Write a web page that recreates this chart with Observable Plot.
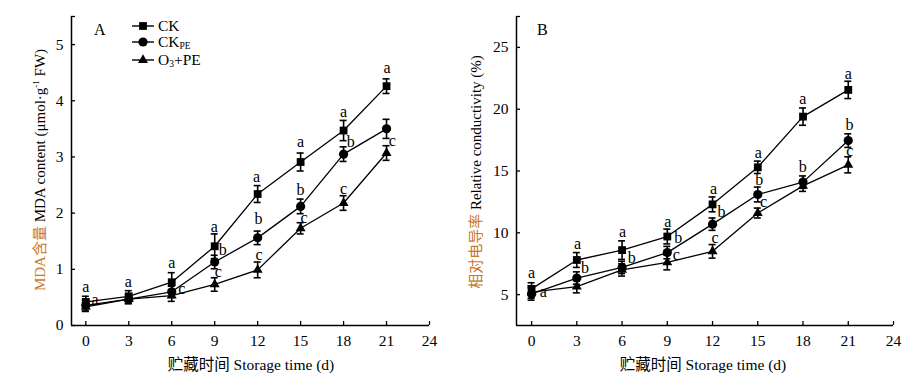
<!DOCTYPE html>
<html>
<head>
<meta charset="utf-8">
<script src="https://cdn.jsdelivr.net/npm/d3@7"></script>
<script src="https://cdn.jsdelivr.net/npm/@observablehq/plot@0.6"></script>
<style>
  html, body { margin: 0; padding: 0; background: #fff; }
  #wrap { position: relative; width: 918px; height: 385px; }
  #wrap > div { position: absolute; top: 0; }
</style>
</head>
<body>
<div id="wrap"><div id="pa" style="left:0"></div><div id="pb" style="left:450px"></div></div>
<script>
// ---- data ----
const days = [0, 3, 6, 9, 12, 15, 18, 21];
const seriesNames = ["CK", "CKPE", "O3+PE"];
const xTicks = [0, 3, 6, 9, 12, 15, 18, 21, 24];

// Panel A: MDA content
const mdaCK    = [0.42, 0.52, 0.77, 1.41, 2.34, 2.91, 3.47, 4.26];
const mdaCKPE  = [0.36, 0.47, 0.60, 1.13, 1.56, 2.12, 3.05, 3.50];
const mdaO3    = [0.33, 0.47, 0.53, 0.73, 0.99, 1.73, 2.18, 3.07];
const mdaErrCK   = [0.10, 0.10, 0.17, 0.22, 0.15, 0.16, 0.18, 0.13];
const mdaErrCKPE = [0.10, 0.08, 0.10, 0.12, 0.12, 0.13, 0.13, 0.17];
const mdaErrO3   = [0.08, 0.08, 0.10, 0.12, 0.14, 0.10, 0.13, 0.13];
const mdaYTicks = [0, 1, 2, 3, 4, 5];
const mdaLetterText  = ["a","a","a","a","c","a","b","c","a","b","c","a","b","c","a","b","c","a","c"];
const mdaLetterDay   = [0, 0.65, 2.96, 6.0, 6.7, 8.97, 9.56, 9.25, 11.93, 12.05, 12.1, 15.0, 15.0, 15.24, 18.0, 18.5, 18.0, 21.03, 21.4];
const mdaLetterValue = [0.69, 0.45, 0.78, 1.11, 0.66, 1.76, 1.34, 0.95, 2.64, 1.90, 1.26, 3.26, 2.42, 1.92, 3.81, 3.27, 2.44, 4.59, 3.28];

// Panel B: relative conductivity
const ecCK    = [5.46, 7.80, 8.60, 9.70, 12.30, 15.30, 19.40, 21.56];
const ecCKPE  = [5.05, 6.34, 7.20, 8.40, 10.70, 13.10, 14.10, 17.46];
const ecO3    = [5.20, 5.64, 7.00, 7.60, 8.50, 11.60, 13.80, 15.50];
const ecErrCK   = [0.50, 0.60, 0.75, 0.60, 0.60, 0.50, 0.70, 0.70];
const ecErrCKPE = [0.50, 0.50, 0.50, 0.50, 0.50, 0.60, 0.50, 0.55];
const ecErrO3   = [0.50, 0.50, 0.50, 0.60, 0.55, 0.40, 0.45, 0.65];
const ecYTicks = [5, 10, 15, 20, 25];
const ecLetterText  = ["a","a","a","b","a","b","a","b","c","a","b","c","a","b","c","a","b","a","b","c"];
const ecLetterDay   = [0, 0.77, 3.05, 3.54, 6.04, 6.64, 9.03, 9.72, 9.6, 12.06, 12.6, 12.17, 15.04, 15.1, 15.38, 17.99, 17.99, 21.0, 21.08, 21.1];
const ecLetterValue = [6.75, 5.25, 9.08, 7.15, 10.05, 8.0, 10.9, 9.55, 8.2, 13.55, 11.72, 9.62, 16.45, 14.25, 12.52, 20.85, 15.35, 22.85, 18.7, 16.65];

// ---- build tables ----
function rows(values, errs) {
  const out = [];
  seriesNames.forEach((s, i) => {
    days.forEach((d, j) => out.push({series: s, day: d, value: values[i][j], err: errs[i][j]}));
  });
  return out;
}
const mdaRows = rows([mdaCK, mdaCKPE, mdaO3], [mdaErrCK, mdaErrCKPE, mdaErrO3]);
const ecRows  = rows([ecCK, ecCKPE, ecO3], [ecErrCK, ecErrCKPE, ecErrO3]);
const mdaLetters = mdaLetterText.map((t, i) => ({t, day: mdaLetterDay[i], value: mdaLetterValue[i]}));
const ecLetters  = ecLetterText.map((t, i) => ({t, day: ecLetterDay[i], value: ecLetterValue[i]}));

const FONT = "'Times New Roman', 'Liberation Serif', 'DejaVu Serif', serif, 'Noto Sans CJK SC'";
const symbolOf = {"CK": "square", "CKPE": "circle", "O3+PE": "triangle"};
const rOf = {"CK": 4.4, "CKPE": 4.6, "O3+PE": 3.7};

function panel({width, marginLeft, marginRight, yDomain, yTicks, data, letters}) {
  const [ymin, ymax] = yDomain;
  const marks = [
    Plot.axisY({ticks: yTicks, tickFormat: d => String(d), tickSize: 0, tickPadding: 8, label: null, fontSize: 15.5}),
    Plot.axisX({ticks: xTicks, tickFormat: d => String(d), tickSize: 0, tickPadding: 9, label: null, fontSize: 15.5}),
    // inward tick marks
    Plot.ruleX(xTicks, {x: d => d, y1: ymin, y2: ymin, insetTop: -4, stroke: "#000", strokeWidth: 1.3}),
    Plot.ruleY(yTicks.concat([ymax]), {y: d => d, x1: -1, x2: -1, insetRight: -4, stroke: "#000", strokeWidth: 1.3}),
    Plot.ruleX([-1], {stroke: "#000", strokeWidth: 1.5}),
    Plot.ruleY([ymin], {stroke: "#000", strokeWidth: 1.5}),
    Plot.line(data, {x: "day", y: "value", z: "series", stroke: "#000", strokeWidth: 1.3}),
    Plot.ruleX(data, {x: "day", y1: d => d.value - d.err, y2: d => d.value + d.err, stroke: "#000", strokeWidth: 1.6}),
    Plot.ruleY(data, {y: d => d.value + d.err, x1: "day", x2: "day", insetLeft: -3.5, insetRight: -3.5, stroke: "#000", strokeWidth: 1.6}),
    Plot.ruleY(data, {y: d => d.value - d.err, x1: "day", x2: "day", insetLeft: -3.5, insetRight: -3.5, stroke: "#000", strokeWidth: 1.6})
  ];
  for (const s of seriesNames) {
    marks.push(Plot.dot(data.filter(d => d.series === s), {x: "day", y: "value", symbol: () => symbolOf[s], r: rOf[s], fill: "#000", stroke: "none"}));
  }
  marks.push(Plot.text(letters, {x: "day", y: "value", text: "t", fontSize: 16, fill: "#000", textAnchor: "middle", lineAnchor: "middle"}));
  return Plot.plot({
    width, height: 385,
    marginLeft, marginRight, marginTop: 16, marginBottom: 60,
    style: {fontFamily: FONT, fontSize: "15px", background: "transparent", color: "#000"},
    x: {domain: [-1, 24]},
    y: {domain: yDomain},
    symbol: {type: "identity"},
    marks
  });
}

const A = panel({width: 450, marginLeft: 71, marginRight: 21, yDomain: [0, 5.5], yTicks: mdaYTicks, data: mdaRows, letters: mdaLetters});
const B = panel({width: 468, marginLeft: 66, marginRight: 25, yDomain: [2.5, 27.5], yTicks: ecYTicks, data: ecRows, letters: ecLetters});
document.getElementById("pa").appendChild(A);
document.getElementById("pb").appendChild(B);

// ---- annotations: axis titles, panel letters, legend ----
const ORANGE = "#c8782a";
function annotate(svg, opts) {
  const g = d3.select(svg).append("g").style("font-family", FONT).attr("fill", "#000");
  g.append("text").attr("x", opts.letterX).attr("y", 35).attr("text-anchor", "start").attr("font-size", 16).text(opts.letter);
  g.append("text").attr("x", opts.xLabelX).attr("y", 370).attr("text-anchor", "middle").attr("font-size", 15.5)
    .text("贮藏时间 Storage time (d)");
  const yl = g.append("text").attr("transform", `translate(${opts.yLabelX},${opts.yLabelY}) rotate(-90)`)
    .attr("text-anchor", "middle").attr("font-size", 15);
  yl.append("tspan").attr("fill", ORANGE).text(opts.yCn);
  for (const part of opts.yEn) {
    const t = yl.append("tspan").attr("fill", "#000").text(part.t);
    if (part.sup) t.attr("font-size", 9).attr("dy", -6);
    if (part.after) t.attr("dy", 6);
  }
  return g;
}
annotate(A, {letter: "A", letterX: 94, xLabelX: 251, yLabelX: 45, yLabelY: 170, yCn: "MDA含量",
  yEn: [{t: " MDA content (μmol·g"}, {t: "-1", sup: true}, {t: " FW)", after: true}]});
annotate(B, {letter: "B", letterX: 87, xLabelX: 253, yLabelX: 31, yLabelY: 172, yCn: "相对电导率",
  yEn: [{t: " Relative conductivity (%)"}]});

// legend in panel A
const lg = d3.select(A).append("g").style("font-family", FONT).attr("font-size", 15.5).attr("text-anchor", "start");
const legendRows = [
  {s: "CK", y: 26, label: [{t: "CK"}]},
  {s: "CKPE", y: 42, label: [{t: "CK"}, {t: "PE", sub: true}]},
  {s: "O3+PE", y: 60, label: [{t: "O"}, {t: "3", sub: true}, {t: "+PE", back: true}]}
];
for (const r of legendRows) {
  lg.append("line").attr("x1", 132).attr("x2", 154).attr("y1", r.y).attr("y2", r.y).attr("stroke", "#000").attr("stroke-width", 1.4);
  const sym = d3.symbol().type(r.s === "CK" ? d3.symbolSquare : r.s === "CKPE" ? d3.symbolCircle : d3.symbolTriangle)
    .size(Math.PI * rOf[r.s] * rOf[r.s]);
  lg.append("path").attr("d", sym()).attr("transform", `translate(143,${r.y})`).attr("fill", "#000");
  const t = lg.append("text").attr("x", 158).attr("y", r.y + 5);
  for (const p of r.label) {
    const ts = t.append("tspan").text(p.t);
    if (p.sub) ts.attr("font-size", 9.5).attr("dy", 2);
    if (p.back) ts.attr("dy", -2);
  }
}
</script>
</body>
</html>
